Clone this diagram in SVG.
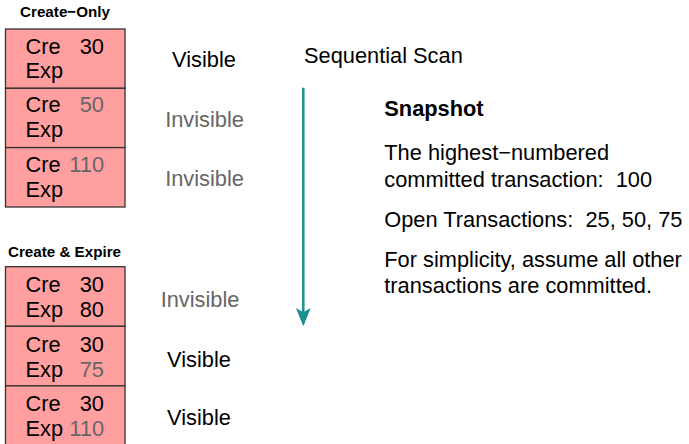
<svg xmlns="http://www.w3.org/2000/svg" width="689" height="444" viewBox="0 0 689 444">
<style>
text{font-family:"Liberation Sans",Arial,sans-serif;fill:#000}
.t{font-size:21.8px}
.h{font-size:15.2px;font-weight:bold;text-anchor:middle}
.g{fill:#666}
.e{text-anchor:end}
.m{text-anchor:middle}
.box{fill:#ff9f9f;stroke:#333;stroke-width:1.3}
.b{font-weight:bold}
</style>
<defs>
<marker id="ah" markerWidth="18" markerHeight="16" refX="15" refY="7" orient="auto" markerUnits="userSpaceOnUse" viewBox="0 0 17 14">
<path d="M0,0 L4,7 L0,14 L17,7 Z" fill="#1a9090"/>
</marker>
</defs>
<rect width="689" height="444" fill="#fff"/>
<text class="h" x="65" y="17">Create−Only</text>
<text class="h" x="64.5" y="256.5">Create &amp; Expire</text>
<g id="t1">
<rect class="box" x="5.5" y="29" width="119.5" height="59.3"/>
<text class="t" x="25.5" y="53.5">Cre</text><text class="t e" x="104" y="53.5">30</text>
<text class="t" x="25.5" y="77.5">Exp</text>
<text class="t m" x="204" y="66.7">Visible</text>
</g>
<g id="t2">
<rect class="box" x="5.5" y="88.3" width="119.5" height="59.3"/>
<text class="t" x="25.5" y="112">Cre</text><text class="t e g" x="104" y="112">50</text>
<text class="t" x="25.5" y="136.5">Exp</text>
<text class="t m g" x="204.5" y="126.7">Invisible</text>
</g>
<g id="t3">
<rect class="box" x="5.5" y="147.6" width="119.5" height="59.4"/>
<text class="t" x="25.5" y="172">Cre</text><text class="t e g" x="104" y="172">110</text>
<text class="t" x="25.5" y="196.5">Exp</text>
<text class="t m g" x="204.5" y="185.5">Invisible</text>
</g>
<g id="t4">
<rect class="box" x="5.5" y="266.7" width="119.5" height="59.6"/>
<text class="t" x="25.5" y="292.3">Cre</text><text class="t e" x="104" y="292.3">30</text>
<text class="t" x="25.5" y="317.3">Exp</text><text class="t e" x="104" y="317.3">80</text>
<text class="t m g" x="200" y="307.3">Invisible</text>
</g>
<g id="t5">
<rect class="box" x="5.5" y="326.3" width="119.5" height="59.6"/>
<text class="t" x="25.5" y="351.5">Cre</text><text class="t e" x="104" y="351.5">30</text>
<text class="t" x="25.5" y="376.5">Exp</text><text class="t e g" x="104" y="376.5">75</text>
<text class="t m" x="199" y="366.7">Visible</text>
</g>
<g id="t6">
<rect class="box" x="5.5" y="385.9" width="119.5" height="60"/>
<text class="t" x="25.5" y="411">Cre</text><text class="t e" x="104" y="411">30</text>
<text class="t" x="25.5" y="435.5">Exp</text><text class="t e g" x="104" y="435.5">110</text>
<text class="t m" x="199" y="425">Visible</text>
</g>
<g id="scan">
<text class="t" x="304" y="62.7">Sequential Scan</text>
</g>
<g id="connectors">
<line x1="303.3" y1="87.7" x2="303.3" y2="324" stroke="#1a9090" stroke-width="2.5" marker-end="url(#ah)"/>
</g>
<g id="snapshot">
<text class="t b" x="384.3" y="116">Snapshot</text>
<text class="t" x="384.3" y="160">The highest−numbered</text>
<text class="t" x="384.3" y="186.7" xml:space="preserve">committed transaction:  100</text>
<text class="t" x="384.3" y="226.7" xml:space="preserve">Open Transactions:  25, 50, 75</text>
<text class="t" x="384.3" y="266.7">For simplicity, assume all other</text>
<text class="t" x="384.3" y="293.3">transactions are committed.</text>
</g>
</svg>
